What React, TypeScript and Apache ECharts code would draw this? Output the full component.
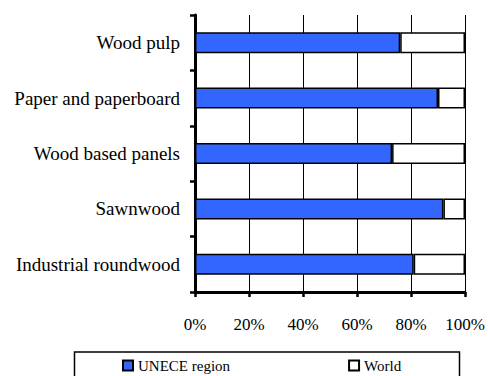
import React, { useEffect, useRef } from "react";
import * as echarts from "echarts";

const categories = [
  "Wood pulp",
  "Paper and paperboard",
  "Wood based panels",
  "Sawnwood",
  "Industrial roundwood",
];
const uneceShare = [76, 90, 73, 92, 81];
const worldRemainder = [24, 10, 27, 8, 19];
const seriesNames = ["UNECE region", "World"];

const FONT = "Liberation Serif";

export default function App() {
  const ref = useRef<HTMLDivElement>(null);
  useEffect(() => {
    document.body.style.margin = "0";
    if (!ref.current) return;
    const chart = echarts.init(ref.current, null, { renderer: "svg" });
    chart.setOption({
      animation: false,
      backgroundColor: "#ffffff",
      textStyle: { fontFamily: FONT },
      grid: { left: 195, right: 23, top: 15, bottom: 84, containLabel: false },
      xAxis: {
        type: "value",
        min: 0,
        max: 100,
        interval: 20,
        axisLine: { show: true, lineStyle: { color: "#000", width: 3 } },
        axisTick: { show: true, length: 5, lineStyle: { color: "#000", width: 2.5 } },
        axisLabel: {
          formatter: "{value}%",
          color: "#000",
          fontFamily: FONT,
          fontSize: 17,
          margin: 24,
        },
        splitLine: { show: true, lineStyle: { color: "#000", width: 1 } },
      },
      yAxis: {
        type: "category",
        data: categories,
        inverse: true,
        axisLine: { show: true, lineStyle: { color: "#000", width: 3 } },
        axisTick: { show: true, length: 5, lineStyle: { color: "#000", width: 2.5 } },
        axisLabel: {
          color: "#000",
          fontFamily: FONT,
          fontSize: 19,
          margin: 15,
        },
        splitLine: { show: false },
      },
      legend: {
        left: 122,
        top: 358,
        padding: 0,
        itemWidth: 10,
        itemHeight: 10,
        itemGap: 118,
        icon: "rect",
        selectedMode: false,
        textStyle: {
          color: "#000",
          fontFamily: FONT,
          fontSize: 15,
          lineHeight: 12,
          padding: [1, 0, 0, 0],
        },
        data: seriesNames,
      },
      graphic: [
        {
          type: "rect",
          shape: { x: 74.5, y: 352, width: 385, height: 40 },
          style: { fill: "none", stroke: "#000", lineWidth: 1.5 },
          silent: true,
        },
      ],
      series: [
        {
          name: seriesNames[0],
          type: "bar",
          stack: "total",
          barWidth: 21,
          data: uneceShare,
          itemStyle: { color: "#3366ff", borderColor: "#000", borderWidth: 1.5 },
        },
        {
          name: seriesNames[1],
          type: "bar",
          stack: "total",
          barWidth: 21,
          data: worldRemainder,
          itemStyle: { color: "#ffffff", borderColor: "#000", borderWidth: 1.5 },
        },
      ],
    });
    return () => chart.dispose();
  }, []);
  return <div ref={ref} style={{ width: 488, height: 376 }} />;
}
